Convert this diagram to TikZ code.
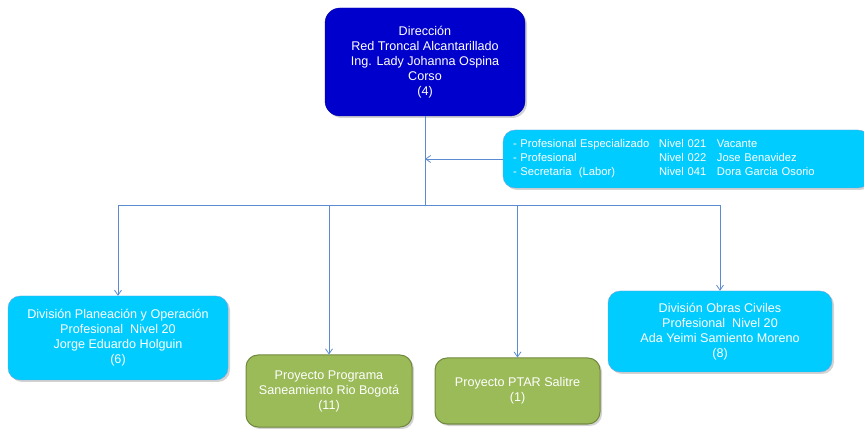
\documentclass[tikz,border=0pt]{standalone}
\usepackage{fontspec}
\setmainfont{Liberation Sans}
\usetikzlibrary{arrows.meta,shadows}

\definecolor{dirblue}{HTML}{0000CC}
\definecolor{divcyan}{HTML}{00CCFF}
\definecolor{proygreen}{HTML}{9BBB59}
\definecolor{proyedge}{HTML}{71893F}
\definecolor{linkblue}{HTML}{5B8BD0}

\tikzset{
  box/.style={rounded corners=12pt, text=white, align=center, inner sep=0pt,
    font=\fontsize{12.6}{15}\selectfont,
    drop shadow={shadow xshift=2pt, shadow yshift=-2pt, opacity=0.35}},
  dirbox/.style={box, fill=dirblue, draw=dirblue!80!black, rounded corners=15pt},
  divbox/.style={box, fill=divcyan, draw=linkblue!80},
  proybox/.style={box, fill=proygreen, draw=proyedge, line width=1pt},
  link/.style={draw=linkblue, line width=0.8pt},
  arrowlink/.style={link, -{Straight Barb[length=5pt,width=7pt]}},
}

\begin{document}
\begin{tikzpicture}
  \useasboundingbox (0pt,0pt) rectangle (864pt,428pt);
  % direccion
  \node[dirbox, minimum width=200pt, minimum height=108pt] (dir) at (425pt,366pt)
    {Dirección\\Red Troncal Alcantarillado\\Ing. Lady Johanna Ospina\\Corso\\(4)};
  % apoyo
  \node[divbox, minimum width=367pt, minimum height=58pt, text width=347pt,
        inner xsep=10pt, align=left, font=\fontsize{11.2}{14}\selectfont] (staff) at (686.5pt,269pt)
    {\makebox[146pt][l]{- Profesional Especializado}\makebox[58pt][l]{Nivel 021}Vacante\\
     \makebox[146pt][l]{- Profesional}\makebox[58pt][l]{Nivel 022}Jose Benavidez\\
     \makebox[146pt][l]{- Secretaria\ \ (Labor)}\makebox[58pt][l]{Nivel 041}Dora Garcia Osorio};
  % divisiones y proyectos
  \node[divbox, minimum width=220pt, minimum height=84pt] (plan) at (118pt,90pt)
    {División Planeación y Operación\\Profesional\ \ Nivel 20\\Jorge Eduardo Holguin\\(6)};
  \node[proybox, minimum width=166pt, minimum height=72pt] (rio) at (329pt,37pt)
    {Proyecto Programa\\Saneamiento Rio Bogotá\\(11)};
  \node[proybox, minimum width=165pt, minimum height=66pt] (ptar) at (517.5pt,37pt)
    {Proyecto PTAR Salitre\\(1)};
  \node[divbox, minimum width=224pt, minimum height=81pt] (obras) at (720pt,96.5pt)
    {División Obras Civiles\\Profesional\ \ Nivel 20\\Ada Yeimi Samiento Moreno\\(8)};

  \coordinate (bus) at (425pt,223pt);
  \draw[link] (dir.south) -- (bus);
  \draw[arrowlink] (staff.west) -- (staff.west -| dir.south);
  \foreach \t in {plan,rio,ptar,obras}
    \draw[arrowlink] (bus) -| (\t.north);
\end{tikzpicture}
\end{document}
